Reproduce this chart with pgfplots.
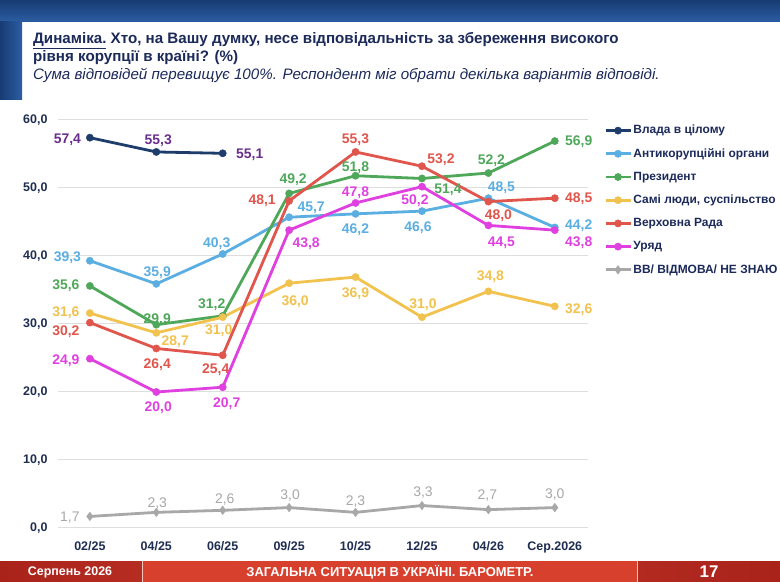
\documentclass[border=0pt]{standalone}
\usepackage{fontspec}
\setmainfont{Liberation Sans}
\usepackage{pgfplots}
\pgfplotsset{compat=1.18}
\definecolor{cNavy}{HTML}{1F3D6B}
\definecolor{cNavyLab}{HTML}{6A2E8C}
\definecolor{cBlue}{HTML}{5AAEE2}
\definecolor{cGreen}{HTML}{4FA85A}
\definecolor{cYellow}{HTML}{F2C24E}
\definecolor{cRed}{HTML}{E0554C}
\definecolor{cMag}{HTML}{E040E0}
\definecolor{cGray}{HTML}{A8A8A8}
\definecolor{cTitle}{HTML}{1C2A5A}
\definecolor{cTick}{HTML}{1F2D52}
\definecolor{cBarTop}{HTML}{173B73}
\definecolor{cBarBot}{HTML}{2C5DA3}
\definecolor{cFootL}{HTML}{A9231B}
\definecolor{cFootM}{HTML}{D8402E}
\definecolor{cFootR}{HTML}{B22A20}
\newcommand{\labfont}{\bfseries\fontsize{14}{16}\selectfont}
\newcommand{\lab}[6]{\node[text=#5,font=\labfont,text depth=0pt,inner sep=0pt,xshift=#3bp,yshift=#4bp] at (axis cs:#1,#2) {#6};}
\begin{document}
\begin{tikzpicture}[x=1bp,y=1bp]
\useasboundingbox (0,0) rectangle (780,582);
\fill[white] (0,0) rectangle (780,582);
% header
\shade[top color=cBarTop, bottom color=cBarBot] (0,560) rectangle (780,582);
\shade[left color=cBarTop, right color=cBarBot] (0,482) rectangle (22,560);
\node[anchor=base west,inner sep=0pt,text=cTitle,font=\bfseries\fontsize{15.2}{17}\selectfont] at (33,538.7) {\underline{Динаміка.} Хто, на Вашу думку, несе відповідальність за збереження високого};
\node[anchor=base west,inner sep=0pt,text=cTitle,font=\bfseries\fontsize{15.2}{17}\selectfont] at (33,520.3) {рівня корупції в країні? (\%)};
\node[anchor=base west,inner sep=0pt,text=cTitle,font=\itshape\fontsize{15.2}{17}\selectfont] at (33,502.7) {Сума відповідей перевищує 100\%. Респондент міг обрати декілька варіантів відповіді.};
% footer
\shade[left color=cFootL, right color=cFootR!90!cFootM] (0,0) rectangle (142,20.5);
\fill[cFootM] (142,0) rectangle (637,20.5);
\shade[left color=cFootR, right color=cFootL] (637,0) rectangle (780,20.5);
\draw[white!70!cFootM, line width=1bp] (142,0) -- (142,20.5) (637,0) -- (637,20.5);
\node[text=white,font=\bfseries\fontsize{12.5}{14}\selectfont] at (70,10) {Серпень 2026};
\node[text=white,font=\bfseries\fontsize{13}{14}\selectfont] at (390,10) {ЗАГАЛЬНА СИТУАЦІЯ В УКРАЇНІ. БАРОМЕТР.};
\node[text=white,font=\bfseries\fontsize{17}{19}\selectfont] at (709,10) {17};
\begin{axis}[
  at={(58bp,54bp)}, anchor=south west,
  scale only axis, width=530bp, height=408bp,
  xmin=-0.48, xmax=7.5, ymin=0, ymax=60,
  axis line style={draw=none},
  major tick length=0pt,
  ytick={0,10,20,30,40,50,60},
  yticklabels={{0,0},{10,0},{20,0},{30,0},{40,0},{50,0},{60,0}},
  xtick={0,1,2,3,4,5,6,7},
  xticklabels={02/25,04/25,06/25,09/25,10/25,12/25,04/26,Сер.2026},
  ymajorgrids,
  grid style={draw=black!13, line width=1bp},
  tick label style={font=\bfseries\fontsize{12.5}{14}\selectfont, text=cTick},
  /pgf/number format/assume math mode=true,
  yticklabel style={xshift=-7bp},
  xticklabel style={yshift=-10bp},
  clip=false,
  every axis plot/.append style={line width=2.8bp, mark size=3.6bp},
  legend image code/.code={\draw[mark repeat=2,mark phase=2,#1] plot coordinates {(0bp,0bp) (12.5bp,0bp) (25bp,0bp)};},
  legend style={at={(axis description cs:1.03,0.991)}, anchor=north west, draw=none, fill=none,
    font=\bfseries\fontsize{12}{14}\selectfont, text=cTitle,
    inner sep=0pt, row sep=9.7bp, column sep=1bp,
    nodes={inner sep=0.5bp, text height=9.5bp, text depth=3bp}},
  legend cell align=left,
]
\addplot[color=cNavy, mark=*, mark options={line width=0.5bp}] coordinates {(0,57.4)(1,55.3)(2,55.1)};
\addlegendentry{Влада в цілому}
\addplot[color=cBlue, mark=*, mark options={line width=0.5bp}] coordinates {(0,39.3)(1,35.9)(2,40.3)(3,45.7)(4,46.2)(5,46.6)(6,48.5)(7,44.2)};
\addlegendentry{Антикорупційні органи}
\addplot[color=cGreen, mark=*, mark options={line width=0.5bp}] coordinates {(0,35.6)(1,29.9)(2,31.2)(3,49.2)(4,51.8)(5,51.4)(6,52.2)(7,56.9)};
\addlegendentry{Президент}
\addplot[color=cYellow, mark=*, mark options={line width=0.5bp}] coordinates {(0,31.6)(1,28.7)(2,31.0)(3,36.0)(4,36.9)(5,31.0)(6,34.8)(7,32.6)};
\addlegendentry{Самі люди, суспільство}
\addplot[color=cRed, mark=*, mark options={line width=0.5bp}] coordinates {(0,30.2)(1,26.4)(2,25.4)(3,48.1)(4,55.3)(5,53.2)(6,48.0)(7,48.5)};
\addlegendentry{Верховна Рада}
\addplot[color=cMag, mark=*, mark options={line width=0.5bp}] coordinates {(0,24.9)(1,20.0)(2,20.7)(3,43.8)(4,47.8)(5,50.2)(6,44.5)(7,43.8)};
\addlegendentry{Уряд}
\addplot[color=cGray, mark=diamond*, mark size=4.2bp, mark options={line width=0.5bp}] coordinates {(0,1.7)(1,2.3)(2,2.6)(3,3.0)(4,2.3)(5,3.3)(6,2.7)(7,3.0)};
\addlegendentry{ВВ/ ВІДМОВА/ НЕ ЗНАЮ}
% labels: Влада
\lab{0}{57.4}{-22.5}{-1}{cNavyLab}{57,4}
\lab{1}{55.3}{2}{12}{cNavyLab}{55,3}
\lab{2}{55.1}{27}{0}{cNavyLab}{55,1}
% Антикорупційні
\lab{0}{39.3}{-22.5}{4}{cBlue}{39,3}
\lab{1}{35.9}{1}{12}{cBlue}{35,9}
\lab{2}{40.3}{-6}{11}{cBlue}{40,3}
\lab{3}{45.7}{22}{10.5}{cBlue}{45,7}
\lab{4}{46.2}{0}{-14.5}{cBlue}{46,2}
\lab{5}{46.6}{-4}{-15.6}{cBlue}{46,6}
\lab{6}{48.5}{13}{12}{cBlue}{48,5}
\lab{7}{44.2}{24}{3}{cBlue}{44,2}
% Президент
\lab{0}{35.6}{-24}{1}{cGreen}{35,6}
\lab{1}{29.9}{1}{6}{cGreen}{29,9}
\lab{2}{31.2}{-11}{12.5}{cGreen}{31,2}
\lab{3}{49.2}{4}{15}{cGreen}{49,2}
\lab{4}{51.8}{0}{9.5}{cGreen}{51,8}
\lab{5}{51.4}{26}{-10}{cGreen}{51,4}
\lab{6}{52.2}{3}{13.7}{cGreen}{52,2}
\lab{7}{56.9}{24}{0}{cGreen}{56,9}
% Самі люди
\lab{0}{31.6}{-24}{1.5}{cYellow}{31,6}
\lab{1}{28.7}{19}{-8}{cYellow}{28,7}
\lab{2}{31.0}{-4}{-12}{cYellow}{31,0}
\lab{3}{36.0}{6}{-17}{cYellow}{36,0}
\lab{4}{36.9}{0}{-15.6}{cYellow}{36,9}
\lab{5}{31.0}{1}{14}{cYellow}{31,0}
\lab{6}{34.8}{2}{16}{cYellow}{34,8}
\lab{7}{32.6}{24}{-2}{cYellow}{32,6}
% Верховна Рада
\lab{0}{30.2}{-24}{-8}{cRed}{30,2}
\lab{1}{26.4}{1}{-15}{cRed}{26,4}
\lab{2}{25.4}{-7}{-13}{cRed}{25,4}
\lab{3}{48.1}{-27}{1}{cRed}{48,1}
\lab{4}{55.3}{0}{13.7}{cRed}{55,3}
\lab{5}{53.2}{19}{8}{cRed}{53,2}
\lab{6}{48.0}{10}{-13.4}{cRed}{48,0}
\lab{7}{48.5}{24}{1}{cRed}{48,5}
% Уряд
\lab{0}{24.9}{-24}{-0.6}{cMag}{24,9}
\lab{1}{20.0}{2}{-14.7}{cMag}{20,0}
\lab{2}{20.7}{4}{-15.5}{cMag}{20,7}
\lab{3}{43.8}{17}{-12.5}{cMag}{43,8}
\lab{4}{47.8}{0}{11.3}{cMag}{47,8}
\lab{5}{50.2}{-7}{-13.4}{cMag}{50,2}
\lab{6}{44.5}{13}{-16.3}{cMag}{44,5}
\lab{7}{43.8}{24}{-11.5}{cMag}{43,8}
% ВВ
\lab{0}{1.7}{-20}{0}{cGray}{\mdseries 1,7}
\lab{1}{2.3}{1}{10}{cGray}{\mdseries 2,3}
\lab{2}{2.6}{2}{12}{cGray}{\mdseries 2,6}
\lab{3}{3.0}{1}{12.6}{cGray}{\mdseries 3,0}
\lab{4}{2.3}{0}{11.7}{cGray}{\mdseries 2,3}
\lab{5}{3.3}{1}{14}{cGray}{\mdseries 3,3}
\lab{6}{2.7}{-1}{14.6}{cGray}{\mdseries 2,7}
\lab{7}{3.0}{0}{14.3}{cGray}{\mdseries 3,0}
\end{axis}
\end{tikzpicture}
\end{document}
